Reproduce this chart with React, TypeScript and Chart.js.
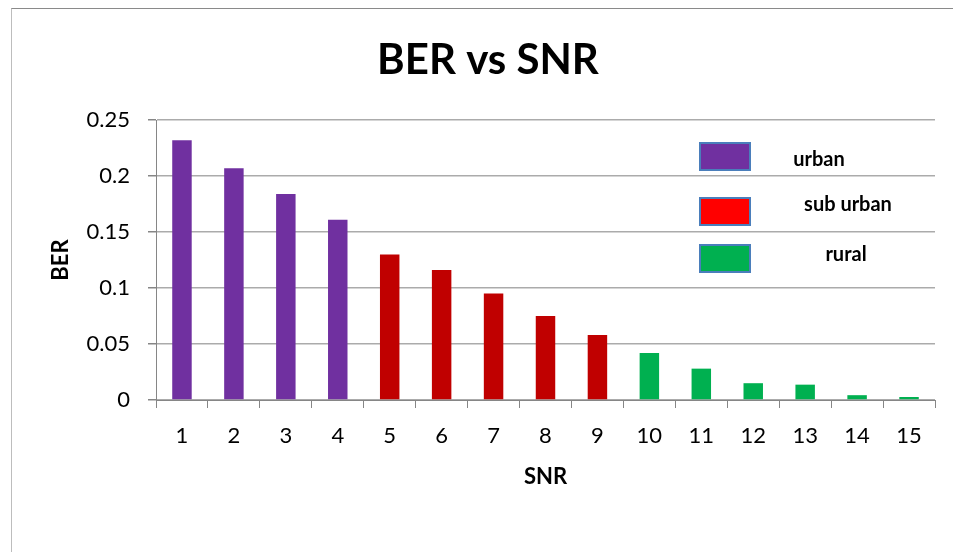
import React, { useEffect, useRef } from "react";
import { Chart, registerables } from "chart.js";

Chart.register(...registerables);

// ---- data ----
const TITLE = "BER vs SNR";
const X_TITLE = "SNR";
const Y_TITLE = "BER";
const SNR_LABELS = ["1", "2", "3", "4", "5", "6", "7", "8", "9", "10", "11", "12", "13", "14", "15"];
const BER_VALUES = [0.232, 0.207, 0.184, 0.161, 0.130, 0.116, 0.095, 0.075, 0.058, 0.042, 0.028, 0.015, 0.0137, 0.0043, 0.0027];
const REGION_OF_BAR = [
  "urban", "urban", "urban", "urban",
  "sub urban", "sub urban", "sub urban", "sub urban", "sub urban",
  "rural", "rural", "rural", "rural", "rural", "rural",
];
const LEGEND_LABELS = ["urban", "sub urban", "rural"];
const LEGEND_COLORS = ["#7030A0", "#FF0000", "#00B050"];
const BAR_COLOR_BY_REGION: Record<string, string> = {
  urban: "#7030A0",
  "sub urban": "#C00000",
  rural: "#00B050",
};
const Y_TICK_VALUES = [0, 0.05, 0.1, 0.15, 0.2, 0.25];
const Y_TICK_LABELS = ["0", "0.05", "0.1", "0.15", "0.2", "0.25"];

const FONT = "Lato";

const overlayPlugin = {
  id: "overlay",
  afterDraw(chart: any) {
    const ctx = chart.ctx as CanvasRenderingContext2D;
    const ca = chart.chartArea;
    ctx.save();
    // title
    ctx.fillStyle = "#000";
    ctx.textAlign = "center";
    ctx.textBaseline = "alphabetic";
    ctx.font = `bold 42px ${FONT}`;
    ctx.fillText(TITLE, 488, 74);

    // legend (custom, Excel-like)
    const boxX = ca.right - 235;
    const boxTops = [ca.top + 23, ca.top + 78, ca.top + 125];
    const textX = [ca.right - 116, ca.right - 87, ca.right - 89];
    const textBase = [ca.top + 46, ca.top + 91, ca.top + 141];
    ctx.font = `bold 20px ${FONT}`;
    LEGEND_LABELS.forEach((lab, i) => {
      ctx.fillStyle = LEGEND_COLORS[i];
      ctx.fillRect(boxX, boxTops[i], 50, 27);
      ctx.lineWidth = 2;
      ctx.strokeStyle = "#4a7ebb";
      ctx.strokeRect(boxX, boxTops[i], 50, 27);
      ctx.fillStyle = "#000";
      ctx.fillText(lab, textX[i], textBase[i]);
    });
    ctx.restore();
  },
};

export default function App() {
  const ref = useRef<HTMLCanvasElement | null>(null);

  useEffect(() => {
    if (!ref.current) return;
    const chart = new Chart(ref.current, {
      type: "bar",
      data: {
        labels: SNR_LABELS,
        datasets: [
          {
            label: "BER",
            data: BER_VALUES,
            backgroundColor: REGION_OF_BAR.map((r) => BAR_COLOR_BY_REGION[r]),
            barPercentage: 1,
            categoryPercentage: 0.375,
          },
        ],
      },
      options: {
        animation: false,
        responsive: false,
        maintainAspectRatio: false,
        layout: { padding: { top: 120, right: 18, bottom: 0, left: 0 } },
        plugins: {
          legend: { display: false },
          title: { display: false },
          tooltip: { enabled: false },
        },
        scales: {
          x: {
            afterFit: (s: any) => {
              s.height = 152;
            },
            grid: {
              offset: true,
              drawOnChartArea: false,
              drawTicks: true,
              tickLength: 8,
              color: "#868686",
              lineWidth: 1,
            },
            border: { color: "#868686", width: 1 },
            ticks: {
              color: "#000",
              font: { family: FONT, size: 22 },
              padding: 15,
              maxRotation: 0,
              autoSkip: false,
            },
            title: {
              display: true,
              text: X_TITLE,
              color: "#000",
              font: { family: FONT, size: 22, weight: "bold" },
              padding: { top: 0, bottom: 62 },
            },
          },
          y: {
            min: 0,
            max: 0.25,
            afterFit: (s: any) => {
              s.width = 156;
            },
            afterBuildTicks: (s: any) => {
              s.ticks = Y_TICK_VALUES.map((v) => ({ value: v }));
            },
            grid: {
              drawTicks: true,
              tickLength: 8,
              color: "#ababab",
              tickColor: "#868686",
              lineWidth: 1.5,
            },
            border: { color: "#868686", width: 1 },
            ticks: {
              color: "#000",
              font: { family: FONT, size: 22 },
              padding: 18,
              callback: (_v: any, i: number) => Y_TICK_LABELS[i],
            },
            title: {
              display: true,
              text: Y_TITLE,
              color: "#000",
              font: { family: FONT, size: 22, weight: "bold" },
              padding: { top: 48, bottom: 0 },
            },
          },
        },
      },
      plugins: [overlayPlugin],
    });
    return () => chart.destroy();
  }, []);

  return (
    <div
      style={{
        position: "absolute",
        left: 0,
        top: 0,
        width: 953,
        height: 552,
        overflow: "hidden",
        background: "#fff",
      }}
    >
      <div
        style={{
          position: "absolute",
          left: 11,
          top: 8,
          width: 1000,
          height: 700,
          borderLeft: "1px solid #bdbdbd",
          borderTop: "1px solid #8a8a8a",
        }}
      />
      <canvas
        ref={ref}
        width={953}
        height={552}
        style={{ position: "absolute", left: 0, top: 0, width: 953, height: 552 }}
      />
    </div>
  );
}
